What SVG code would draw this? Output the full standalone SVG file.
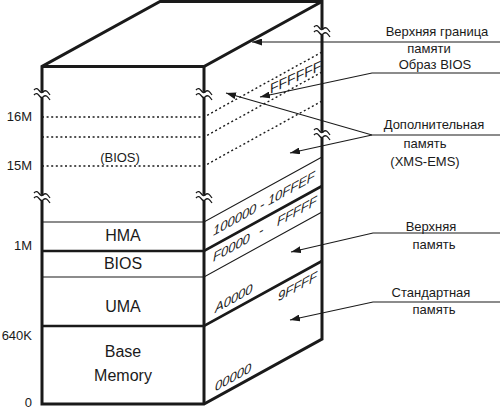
<svg xmlns="http://www.w3.org/2000/svg" width="500" height="410" viewBox="0 0 500 410">
<defs>
<style>
.edge{fill:none;stroke:#1a1a1a;stroke-width:3;stroke-linejoin:miter}
.thick{fill:none;stroke:#1a1a1a;stroke-width:2.6}
.thin{fill:none;stroke:#1a1a1a;stroke-width:1.1}
.dot{fill:none;stroke:#1a1a1a;stroke-width:1.4;stroke-dasharray:2 2.6}
.conn{fill:none;stroke:#1a1a1a;stroke-width:1.2}
text{font-family:"Liberation Sans",Arial,sans-serif;fill:#1a1a1a}
.big{font-size:16px;text-anchor:middle}
.lbl{font-size:13px;text-anchor:middle}
.axis{font-size:13px;text-anchor:end}
.side{font-size:13px}
.ital{font-style:italic}
.brk{fill:none;stroke:#1a1a1a;stroke-width:1.3}
</style>
<marker id="ah" viewBox="0 0 10 7" refX="10" refY="3.5" markerWidth="10" markerHeight="7" markerUnits="userSpaceOnUse" orient="auto">
<path d="M0,0 L10,3.5 L0,7 z" fill="#1a1a1a"/>
</marker>
<g id="brk">
<polygon points="-8,-4 0,-2 8,1 8,6 0,3 -8,1" fill="#fff"/>
<path class="brk" d="M-8,-4 C-4,-9 -2,1 1,-2 C4,-5 6,-2 8,1"/>
<path class="brk" d="M-8,1 C-4,-4 -2,6 1,3 C4,0 6,3 8,6"/>
</g>
</defs>
<rect width="500" height="410" fill="#fff"/>

<g id="block">
<polygon points="42,66.5 160,1.5 322,1.5 204,66.5" fill="#fff"/>
<polygon points="42,66.5 204,66.5 204,404 42,404" fill="#fff"/>
<polygon points="204,66.5 322,1.5 322,339 204,404" fill="#fff"/>
<path class="dot" d="M42,117 H204 L322,52"/>
<path class="dot" d="M42,137 H204 L322,72"/>
<path class="dot" d="M42,166 H204 L322,101"/>
<path class="thin" d="M42,222 H204 L322,157"/>
<path class="thick" d="M42,251 H204 L322,186"/>
<path class="thin" d="M42,277 H204 L322,212"/>
<path class="thick" d="M42,326 H204 L322,261"/>
<path class="edge" d="M42,404 V66.5 L160,1.5 H322 V339 L204,404 Z"/>
<path class="edge" d="M42,66.5 H204 L322,1.5"/>
<path class="edge" d="M204,66.5 V404"/>
<use href="#brk" x="42" y="94"/>
<use href="#brk" x="42" y="197"/>
<use href="#brk" x="204" y="94"/>
<use href="#brk" x="204" y="197"/>
<use href="#brk" x="322" y="31"/>
<use href="#brk" x="322" y="134"/>
</g>

<g id="axis-labels">
<text class="axis" x="32" y="121">16M</text>
<text class="axis" x="32" y="170">15M</text>
<text class="axis" x="32" y="250">1M</text>
<text class="axis" x="32" y="340">640K</text>
<text class="axis" x="32" y="407">0</text>
</g>

<g id="front-labels">
<text x="120" y="162" style="font-size:13px;text-anchor:middle">(BIOS)</text>
<text class="big" x="123" y="241">HMA</text>
<text class="big" x="123" y="269">BIOS</text>
<text class="big" x="123" y="312">UMA</text>
<text class="big" x="123" y="357">Base</text>
<text class="big" x="123" y="381">Memory</text>
</g>

<g id="side-labels">
<text class="side" style="font-size:14px" transform="translate(270,94) skewY(-25)">FFFFFF</text>
<text class="side ital" transform="translate(213,236) skewY(-28.85)">100000 - 10FFEF</text>
<text class="side ital" transform="translate(213,262) skewY(-28.85)">F0000</text>
<text class="side ital" transform="translate(259,236) skewY(-28.85)">-</text>
<text class="side ital" transform="translate(277,226.5) skewY(-28.85)">FFFFF</text>
<text class="side ital" transform="translate(215,313) skewY(-28.85)">A0000</text>
<text class="side ital" transform="translate(278,301.5) skewY(-28.85)">9FFFF</text>
<text class="side ital" transform="translate(215,391.5) skewY(-28.85)">00000</text>
</g>

<g id="connectors">
<path class="conn" d="M500,42 H252" marker-end="url(#ah)"/>
<path class="conn" d="M500,73 H372 L260,97" marker-end="url(#ah)"/>
<path class="conn" d="M500,135 H372 L226,93" marker-end="url(#ah)"/>
<path class="conn" d="M372,135 L290,153" marker-end="url(#ah)"/>
<path class="conn" d="M500,233 H373 L291,252" marker-end="url(#ah)"/>
<path class="conn" d="M500,302 H373 L290,320" marker-end="url(#ah)"/>
</g>

<g id="callouts">
<text class="lbl" x="437" y="36">Верхняя граница</text>
<text class="lbl" x="429" y="53">памяти</text>
<text class="lbl" x="435" y="69">Образ BIOS</text>
<text class="lbl" x="434" y="129">Дополнительная</text>
<text class="lbl" x="425" y="148">память</text>
<text class="lbl" x="425" y="166">(XMS-EMS)</text>
<text class="lbl" x="431" y="231">Верхняя</text>
<text class="lbl" x="434" y="249">память</text>
<text class="lbl" x="431" y="297">Стандартная</text>
<text class="lbl" x="434" y="314">память</text>
</g>
</svg>
